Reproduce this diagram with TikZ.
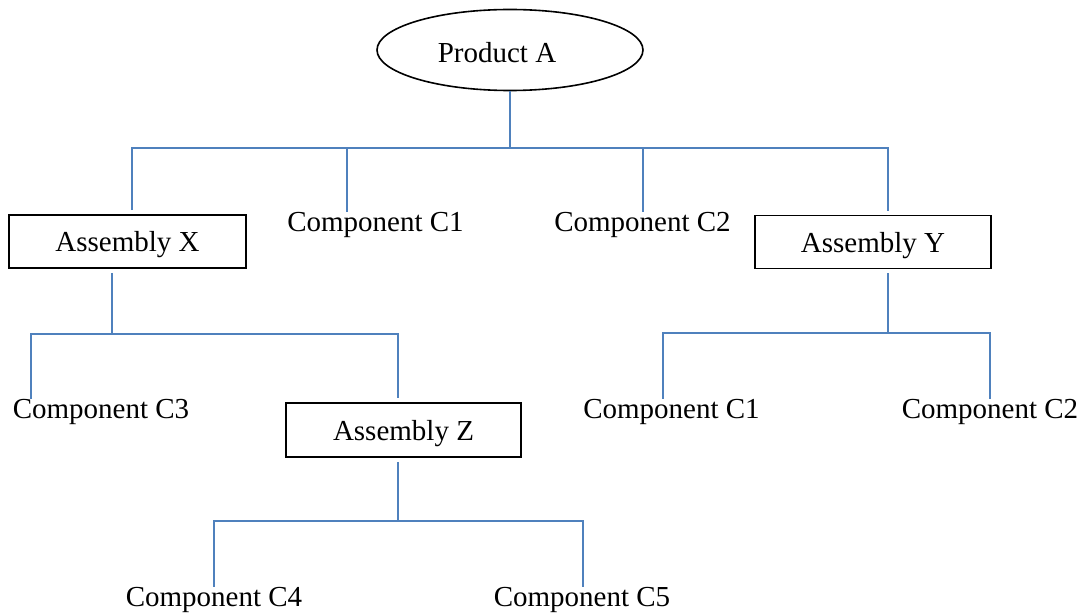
\documentclass[tikz,border=0pt]{standalone}
\usepackage{fontspec}
\setmainfont{Liberation Serif}
\usetikzlibrary{shapes.geometric}
\definecolor{linkblue}{RGB}{79,129,189}
\begin{document}
\begin{tikzpicture}[x=1pt,y=-1pt,
  link/.style={draw=linkblue,line width=1.6pt},
  lbl/.style={anchor=base,inner sep=0pt,font=\fontsize{29}{34}\selectfont},
  asm/.style={draw=black,line width=1.6pt,rectangle,inner sep=0pt,
    minimum height=53pt,text depth=0pt,font=\fontsize{29}{34}\selectfont},
  prod/.style={draw=black,line width=1.6pt,ellipse,inner sep=0pt,
    minimum width=266pt,minimum height=81pt}]
\useasboundingbox (0,0) rectangle (1090,615);

% top product
\node[prod] (P) at (510,50) {};
\node[lbl] (Pt) at (497,63) {Product A};

% first level
\node[asm,minimum width=237pt] (X) at (127.5,241.5) {Assembly X};
\node[lbl] (C1a) at (375.5,231) {Component C1};
\node[lbl] (C2a) at (642.5,231) {Component C2};
\node[asm,minimum width=236pt] (Y) at (873,242) {Assembly Y};

% second level
\node[lbl] (C3) at (101,418) {Component C3};
\node[asm,minimum width=235pt,minimum height=54pt] (Z) at (403.5,430) {Assembly Z};
\node[lbl] (C1b) at (671.5,418) {Component C1};
\node[lbl] (C2b) at (990,418) {Component C2};

% third level
\node[lbl] (C4) at (214,606) {Component C4};
\node[lbl] (C5) at (582,606) {Component C5};

% bus junctions
\coordinate (t1) at (132,148);
\coordinate (t2) at (347,148);
\coordinate (t3) at (643,148);
\coordinate (t4) at (888,148);
\coordinate (x0) at (112,334);
\coordinate (x1) at (31,334);
\coordinate (x2) at (398,334);
\coordinate (y0) at (888,333);
\coordinate (y1) at (663,333);
\coordinate (y2) at (990,333);
\coordinate (z0) at (398,521);
\coordinate (z1) at (214,521);
\coordinate (z2) at (583,521);

% Product A branches
\draw[link] (P.south) -- (P.south |- t1);
\draw[link,shorten <=4pt,shorten >=4pt] (t1 |- X.north) -- (t1) -- (t4) -- (t4 |- Y.north);
\draw[link] (t2) -- (t2 |- C1a.north);
\draw[link] (t3) -- (t3 |- C2a.north);

% Assembly X branches
\draw[link,shorten <=4pt] (x0 |- X.south) -- (x0);
\draw[link,shorten >=4pt] (x1 |- C3.north) -- (x1) -- (x2) -- (x2 |- Z.north);

% Assembly Y branches
\draw[link,shorten <=4pt] (y0 |- Y.south) -- (y0);
\draw[link] (y1 |- C1b.north) -- (y1) -- (y2) -- (y2 |- C2b.north);

% Assembly Z branches
\draw[link,shorten <=4pt] (z0 |- Z.south) -- (z0);
\draw[link] (z1 |- C4.north) -- (z1) -- (z2) -- (z2 |- C5.north);
\end{tikzpicture}
\end{document}
